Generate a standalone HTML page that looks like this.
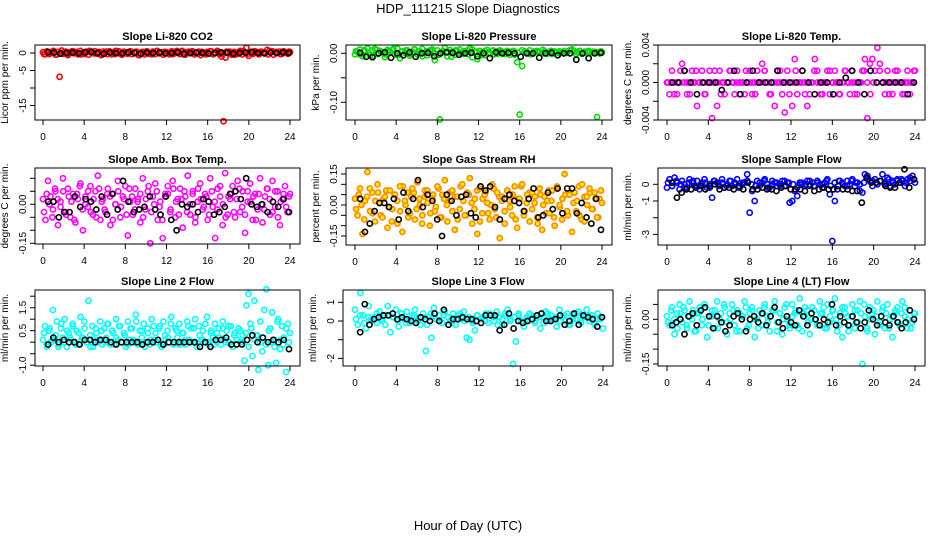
<!DOCTYPE html>
<html><head><meta charset="utf-8"><style>
html,body{margin:0;padding:0;background:#fff;}
svg{display:block;font-family:"Liberation Sans",sans-serif;}
</style></head><body>
<svg id="chart" width="936" height="540" viewBox="0 0 936 540">
<text x="468" y="13" text-anchor="middle" font-size="13">HDP_111215  Slope Diagnostics</text>
<text x="468" y="530" text-anchor="middle" font-size="13">Hour of Day (UTC)</text>
</svg>
<script>
// ---- data arrays (values per panel; hours spread over the day) ----
const co2Colored=[0.2,-0.4,0.5,-0.3,0.1,0.6,-0.5,0.3,-6.8,0.7,-0.2,0.4,-0.6,0.2,0.5,-0.1,0.3,-0.4,0.6,0.1,-0.3,0.4,-0.5,0.2,0.0,0.5,-0.2,0.3,-0.6,0.4,0.1,-0.3,0.5,-0.4,0.2,0.6,-0.1,0.3,-0.5,0.4,0.0,-0.2,0.5,-0.3,0.2,0.4,-0.6,0.1,0.3,-0.4,0.5,-0.2,0.0,0.4,-0.3,0.6,-0.1,0.2,-0.5,0.3,0.1,-0.4,0.5,-0.2,0.4,0.0,-0.3,0.6,-0.5,0.2,0.3,-0.1,0.5,-0.4,0.1,0.4,-0.6,0.2,0.0,0.3,-0.2,0.5,-0.4,0.1,0.6,-0.3,-1.0,-19.5,-1.3,0.2,0.4,-0.5,0.3,0.1,-0.2,0.6,-0.4,0.2,1.5,-0.8,0.3,-0.3,0.5,0.1,-0.4,0.4,0.2,-0.1,0.9,0.6,0.3,-0.5,0.2,0.0,0.4,-0.3,0.5,0.1,-0.2,0.3];
const co2Colored2=[-0.3,0.2,0.4,-0.5,0.1,0.3,-0.2,0.5,0.0,-0.4,0.3,0.6,-0.1,0.2,-0.5,0.4,0.1,-0.3,0.5,0.0,-0.2,0.4,0.3,-0.6,0.2,0.1,-0.4,0.5,-0.1,0.3,0.0,-0.3,0.6,0.2,-0.5,0.4,0.1,-0.2,0.3,-0.4,0.5,0.0,0.2,-0.3,0.4,0.1,-0.5,0.3,0.6,-0.2,0.0,0.4,-0.1,0.2,-0.4,0.5,0.3,-0.3,0.1,0.4];
const co2Black=[0.2,0.1,-0.2,0.0,0.1,-0.1,0.2,0.3,0.0,-0.2,0.1,0.0,-0.1,0.2,0.0,-0.2,0.1,0.0,0.1,-0.1,0.0,0.2,-0.2,0.0,0.1,0.0,-0.1,0.0,0.2,0.1,-0.2,0.0,0.1,0.3,0.0,-0.1,0.1,0.0,0.2,0.0];
const presColored=[-0.002,0.003,0.008,-0.006,0.004,0.010,-0.004,0.006,0.009,-0.002,0.005,0.002,-0.008,0.007,0.003,0.006,-0.003,0.010,-0.010,0.004,0.001,0.006,-0.005,0.003,0.008,-0.002,0.004,0.009,0.001,-0.004,0.005,0.008,-0.014,0.006,-0.135,0.002,0.011,-0.006,0.007,0.003,-0.003,0.005,0.008,-0.001,0.004,0.006,0.010,-0.008,0.003,-0.012,0.005,0.002,-0.004,0.007,0.001,0.005,-0.002,0.004,0.006,0.003,-0.001,0.005,0.002,0.004,-0.003,-0.018,-0.125,-0.026,0.004,0.002,0.006,-0.001,0.003,0.005,0.002,0.000,0.004,0.001,0.003,-0.001,0.004,0.002,0.000,0.003,0.005,0.001,0.006,0.008,0.004,0.002,0.005,-0.001,0.003,0.004,0.002,0.001,0.003,-0.130,0.000,0.002];
const presColored2=[0.004,-0.003,0.006,0.001,-0.005,0.007,0.002,-0.002,0.005,0.009,-0.004,0.003,0.006,-0.001,0.008,0.002,-0.006,0.004,0.007,0.000,-0.003,0.005,0.003,-0.007,0.006,0.001,0.004,-0.002,0.008,0.003,-0.004,0.005,0.002,0.006,-0.001,0.004,0.003,-0.003,0.005,0.001,0.006,0.002,-0.002,0.004,0.003,0.007,-0.001,0.005,0.002,0.004,0.000,0.003,0.006,-0.002,0.004,0.001,0.005,0.003,0.002,0.004];
const presBlack=[0.001,-0.007,-0.008,0.000,0.002,-0.009,0.000,-0.004,0.002,-0.007,0.000,0.001,-0.006,0.000,0.002,0.001,-0.003,0.000,0.001,-0.006,0.000,-0.010,0.002,0.000,0.001,0.000,-0.007,0.000,0.000,-0.009,0.000,0.001,-0.004,0.000,0.000,-0.013,0.000,-0.010,0.000,0.001];
const tempColored=[0,-0.00125,0.00125,0,-0.00125,0,0.002,0.00125,-0.00125,0,0.00125,0,-0.0025,0,0.00125,-0.00125,0,0.00125,-0.0038,0,-0.0025,0.00125,0,-0.00125,0,0.00125,0,-0.00125,0.00125,0,0,-0.00125,0,0.00125,-0.00125,0,0.00125,0,0.002,0.00125,0,-0.00125,0,-0.0025,0.00125,0,-0.00125,-0.0032,0.00125,0,-0.0025,0.0025,-0.00125,0,0.00125,0,-0.0025,-0.00125,0,0.0025,0.00125,0,-0.00125,0,0.00125,-0.00125,0,0.00125,0,-0.00125,0,0.00125,0,-0.00125,0.00125,0,-0.00125,0,0.00125,0.0025,-0.0038,0.002,0.0025,0.00125,0.0037,0.002,0,-0.00125,0.00125,0,-0.00125,0,0.00125,0,-0.00125,0,0.00125,-0.00125,0,0.00125];
const tempColored2=[0,0,-0.00125,0,0.00125,0,0,-0.00125,0,0.00125,0,0,-0.00125,0,0,0.00125,0,-0.00125,0,0,0.00125,0,0,-0.00125,0,0.00125,0,0,-0.00125,0,0,0.00125,0,-0.00125,0,0,0.00125,0,0,-0.00125,0,0.00125,0,0,-0.00125,0,0,0.00125,0,-0.00125,0,0,0.00125,0,0,-0.00125,0,0.00125,0,0,-0.00125,0,0,0.00125,0,-0.00125,0,0,0.00125,0,0,-0.00125,0,0.00125,0,0,-0.00125,0,0,0.00125];
const tempBlack=[0,0,0.00125,0,-0.00125,0,0,0,-0.0008,0,0.00125,-0.00125,0,0.00125,0,0,0,0.00125,0,0,0,0.00125,0,-0.00125,0,0,-0.00125,0,0.0005,0.00125,0,-0.00125,0.00125,0,0,0,0,0,-0.00125,0];
const ambColored=[0.02,-0.06,0.09,0.03,-0.02,0.05,-0.08,0.01,0.10,-0.03,0.06,-0.05,0.04,-0.07,0.02,0.08,-0.10,0.03,-0.01,0.07,-0.04,0.05,0.11,-0.06,0.02,-0.03,0.06,-0.08,0.04,0.00,0.09,-0.05,0.03,0.07,-0.12,0.01,-0.04,0.06,0.02,-0.07,0.10,-0.02,0.05,-0.15,0.03,0.08,-0.06,0.01,-0.13,0.04,0.07,-0.03,0.09,-0.05,0.02,0.06,-0.09,0.03,0.11,-0.04,0.05,-0.07,0.01,0.08,-0.02,0.04,-0.06,0.10,-0.01,-0.13,0.06,0.03,-0.08,0.12,-0.04,0.02,0.07,-0.05,0.09,-0.03,0.05,-0.11,0.01,0.08,-0.06,0.04,-0.02,0.10,-0.07,0.03,0.06,-0.04,0.09,-0.01,0.05,-0.08,0.02,0.07,-0.03,0.04];
const ambColored2=[-0.03,0.04,0.00,-0.05,0.06,0.02,-0.01,0.05,-0.04,0.03,0.01,-0.06,0.04,0.07,-0.02,0.00,0.05,-0.03,0.02,-0.05,0.06,0.01,-0.02,0.04,0.03,-0.06,0.00,0.05,-0.01,0.02,-0.04,0.06,0.03,-0.02,0.01,0.04,-0.05,0.02,0.07,-0.03,0.00,0.05,-0.01,-0.06,0.03,0.04,-0.02,0.06,0.01,-0.04,0.02,0.05,-0.03,0.00,0.04,-0.05,0.06,0.02,-0.01,0.03,-0.04,0.05,0.01,-0.02,0.07,0.00,-0.05,0.03,0.04,-0.03,0.02,0.06,-0.01,-0.04,0.05,0.01,0.03,-0.06,0.04,0.00,-0.02,0.06,0.02,-0.03,0.05,-0.05,0.01,0.04,-0.01,0.03];
const ambBlack=[0.01,0.01,-0.05,-0.03,-0.03,0.03,-0.01,0.02,0.01,-0.02,0.03,-0.04,0.04,-0.02,0.09,0.01,-0.03,-0.02,-0.01,0.03,-0.02,-0.04,0.03,-0.06,-0.10,0.00,-0.01,0.00,-0.03,0.02,0.01,-0.04,-0.03,-0.01,0.04,0.05,0.02,0.10,0.00,-0.01,0.00,-0.03,0.01,-0.01,0.02,-0.03];
const rhColored=[0.03,-0.05,0.08,-0.14,0.02,0.16,-0.03,0.06,-0.08,0.10,0.01,-0.06,0.04,-0.11,0.07,-0.02,0.05,-0.09,0.09,-0.13,0.02,0.06,-0.04,0.08,-0.07,0.11,0.00,-0.05,0.04,0.07,-0.10,0.03,-0.03,0.09,-0.06,0.05,0.12,-0.08,0.02,0.07,-0.12,0.04,-0.02,0.10,-0.05,0.06,0.13,-0.09,0.03,-0.14,0.08,-0.04,0.05,0.01,-0.07,0.10,-0.02,0.06,-0.16,0.04,-0.09,0.07,0.02,-0.05,0.09,-0.11,0.03,0.10,-0.03,0.05,-0.08,0.06,0.01,-0.06,0.08,-0.12,0.04,0.02,-0.04,0.07,-0.10,0.09,0.00,-0.07,0.15,-0.03,0.05,-0.13,0.06,0.02,-0.05,0.10,-0.08,0.04,0.08,-0.02,0.06,-0.06,0.03,0.01];
const rhColored2=[-0.02,0.05,0.00,-0.07,0.04,0.08,-0.04,0.02,0.06,-0.05,0.03,0.07,-0.01,-0.08,0.05,0.02,-0.03,0.09,0.00,-0.06,0.04,0.06,-0.02,0.03,-0.09,0.07,0.01,-0.04,0.05,-0.01,0.08,-0.06,0.03,0.00,0.06,-0.03,0.04,-0.07,0.09,0.02,-0.05,0.05,0.01,-0.02,0.07,-0.08,0.03,0.06,-0.04,0.00,0.08,-0.06,0.04,0.02,-0.03,0.07,-0.01,0.05,-0.07,0.03,0.09,-0.05,0.01,0.06,-0.02,0.04,-0.09,0.05,0.00,-0.04,0.07,0.02,-0.06,0.08,-0.01,0.03,0.05,-0.05,0.06,0.01,-0.03,0.09,-0.07,0.04,0.00,0.06,-0.02,0.03,-0.06,0.07];
const rhBlack=[0.03,-0.13,-0.09,-0.03,0.01,0.01,-0.01,0.03,-0.07,0.06,-0.03,0.03,0.12,-0.01,0.05,0.02,-0.07,-0.15,0.05,0.02,-0.05,0.04,0.05,-0.04,-0.06,0.09,0.07,0.09,-0.01,-0.07,0.03,0.05,0.02,0.01,-0.03,0.03,0.08,-0.06,-0.05,0.06,-0.02,0.08,-0.04,0.08,0.08,-0.04,0.01,-0.06,-0.09,0.03,-0.12];
const flowColored=[-0.2,0.3,-0.1,0.4,0.1,-0.3,0.2,0.0,-0.2,0.3,0.1,-0.1,0.2,-0.3,0.1,0.3,-0.2,0.0,-0.8,0.2,0.1,-0.1,0.3,-0.2,0.0,0.2,-0.1,0.1,0.3,-0.2,0.0,0.1,0.6,-1.7,-0.4,-1.0,0.2,-0.1,0.1,0.3,0.0,-0.2,0.2,0.1,-0.1,0.0,0.2,-0.1,0.1,-1.1,-1.0,-0.4,-0.7,0.1,0.0,-0.1,0.2,0.0,0.1,-0.1,0.2,0.0,-0.2,0.1,0.3,-0.6,-3.4,-1.0,-0.3,0.2,0.1,-0.1,0.2,0.0,0.3,-0.1,0.1,-0.4,-0.5,0.6,0.5,0.2,-0.1,0.3,0.0,0.2,0.6,0.1,0.4,-0.1,0.2,0.0,0.3,0.1,0.2,-0.1,0.3,0.4,0.5,0.1];
const flowColored2=[0.1,-0.1,0.2,0.0,-0.2,0.1,0.2,-0.1,0.0,0.1,-0.2,0.2,0.0,0.1,-0.1,0.2,0.0,-0.2,0.1,0.2,0.0,-0.1,0.1,0.2,-0.2,0.0,0.1,-0.1,0.2,0.1,0.0,-0.2,0.1,0.0,0.2,-0.1,0.1,0.0,0.2,-0.1,0.1,0.2,0.0,-0.1,0.2,0.1,0.0,0.1,0.3,0.2,0.1,0.2,0.0,0.3,0.1,0.2,0.3,0.1,0.2,0.3];
const flowBlack=[0.1,-0.8,-0.5,-0.3,-0.3,-0.2,-0.1,-0.3,-0.1,0.0,-0.3,-0.2,-0.2,-0.3,-0.1,-0.3,0.1,-0.3,-0.3,-0.2,-0.3,-0.3,-0.4,-0.2,-0.1,-0.3,-0.3,-0.3,-0.4,-0.1,-0.4,-0.3,-0.2,-0.3,-0.3,-0.1,-0.3,-0.3,-0.4,-0.4,-1.1,0.4,0.1,0.1,0.2,-0.1,-0.2,-0.2,0.1,0.9,-0.2,0.3];
const line2Colored=[0.1,0.7,-0.2,0.5,0.0,1.4,0.1,0.9,-0.1,0.6,0.2,1.0,-0.2,0.4,0.1,0.8,0.0,0.5,-0.1,1.1,0.2,0.6,0.0,1.8,-0.2,0.7,0.1,0.4,0.0,0.9,-0.1,0.6,0.2,0.8,0.0,0.5,-0.1,1.0,0.1,0.7,0.0,0.4,-0.2,0.9,0.1,0.6,0.0,1.2,-0.1,0.5,0.2,0.8,0.0,0.6,-0.1,1.0,0.1,0.4,0.0,0.7,-0.2,0.9,0.1,0.5,0.0,1.1,-0.1,0.6,0.2,0.8,0.0,0.4,-0.1,0.9,0.1,0.6,0.0,1.0,-0.2,0.7,0.1,0.5,0.0,1.1,-0.1,0.4,0.2,0.8,0.0,0.6,-0.1,0.9,0.1,0.5,0.0,0.7,-0.2,0.4,0.1,0.6,0.0,0.3,-0.8,1.6,2.1,0.8,-0.6,1.8,0.3,-1.2,0.9,-0.4,1.4,2.3,-1.0,0.6,1.3,0.1,-0.9,1.0,-0.3,0.7,0.2,-1.3,0.8,0.4];
const line2Colored2=[0.4,-0.1,0.6,0.1,0.3,-0.2,0.8,0.0,0.5,0.2,0.7,-0.1,0.4,0.1,0.9,0.0,0.3,-0.2,0.6,0.1,0.5,0.0,0.8,-0.1,0.4,0.2,0.7,0.0,0.3,-0.1,0.6,0.1,0.9,0.0,0.5,-0.2,0.4,0.1,0.7,0.0,0.6,-0.1,0.3,0.2,0.8,0.0,0.5,-0.1,0.4,0.1,0.7,0.0,0.6,-0.2,0.3,0.1,0.8,0.0,0.5,-0.1,0.4,0.2,0.6,0.0,0.7,-0.1,0.3,0.1,0.5,0.0,0.4,-0.2,0.6,0.1,0.3,0.0,0.2,-0.1,0.5,0.0,-0.2,0.9,0.1,-0.1,0.6,0.0];
const line2Black=[-0.1,0.2,0.0,0.1,0.0,0.0,-0.1,0.1,0.1,0.0,0.1,0.1,0.0,-0.1,0.0,0.0,0.0,0.0,-0.1,0.0,0.0,0.1,-0.1,0.0,0.0,0.0,0.0,0.0,0.0,-0.2,0.0,-0.2,0.1,0.1,0.2,-0.1,-0.1,-0.1,0.1,0.3,0.0,0.2,0.0,0.1,0.0,0.1,-0.3];
const line3Colored=[0.6,-0.2,1.5,0.3,-0.4,0.8,0.1,0.2,-0.1,0.5,0.0,0.3,0.8,-0.6,0.2,0.6,-0.3,0.4,0.1,0.5,-0.1,0.3,0.6,0.0,-0.2,0.4,-1.6,0.2,-0.9,0.7,0.1,0.3,-0.1,0.5,0.2,0.0,0.4,-0.2,0.3,0.1,0.5,-0.9,-1.0,0.0,-0.5,0.3,0.1,0.2,0.4,-0.1,0.3,0.0,0.5,0.2,-0.2,0.4,0.6,0.1,-2.3,-1.1,0.3,0.0,-0.3,0.2,0.4,0.1,-0.1,0.3,-0.4,0.2,0.5,0.0,0.3,0.1,-0.3,0.6,0.2,0.0,0.4,-0.2,0.3,0.1,0.5,-0.1,0.2,0.6,0.0,0.3,-0.2,0.4,0.1,-0.4];
const line3Colored2=[0.1,0.3,-0.1,0.2,0.0,0.4,0.1,-0.2,0.3,0.2,0.0,0.4,-0.1,0.1,0.3,0.0,0.2,-0.2,0.4,0.1,0.0,0.3,0.2,-0.1,0.1,0.4,0.0,0.2,-0.1,0.3,0.1,0.0,0.4,0.2,-0.2,0.1,0.3,0.0,0.2,0.4,-0.1,0.1,0.3,0.0,0.2,-0.1,0.4,0.1,0.2,0.0,0.3,-0.2,0.1,0.4,0.0,0.2,0.3,-0.1,0.1,0.2];
const line3Black=[-0.6,0.9,-0.2,0.1,0.2,0.3,0.3,0.4,0.1,0.2,0.1,0.0,-0.1,0.2,0.1,0.0,0.4,0.0,0.6,-0.2,0.1,0.1,0.2,0.1,0.1,0.0,-0.1,0.3,0.3,0.3,-0.5,-0.2,0.4,-0.4,0.0,-0.1,0.0,0.1,0.3,0.4,0.0,0.0,0.1,0.3,-0.2,0.0,0.4,-0.2,0.3,0.2,0.1,-0.3,0.2];
const line4Colored=[0.01,-0.02,0.04,-0.05,0.02,0.05,-0.01,0.03,-0.03,0.06,0.00,-0.04,0.02,0.04,-0.02,0.05,-0.06,0.01,0.03,-0.03,0.06,0.00,-0.01,0.04,-0.05,0.02,0.05,-0.02,0.03,-0.04,0.01,0.06,-0.03,0.02,0.04,-0.06,0.00,0.03,-0.02,0.05,0.01,-0.04,0.03,0.06,-0.01,0.02,-0.05,0.04,0.00,-0.03,0.05,0.02,-0.02,0.07,-0.04,0.01,0.03,-0.05,0.04,0.00,-0.02,0.06,0.02,-0.03,0.05,-0.01,0.03,0.07,-0.04,0.02,-0.06,0.04,0.01,-0.02,0.05,-0.03,0.03,0.06,-0.15,0.01,-0.04,0.04,0.02,-0.05,0.06,-0.01,0.03,-0.03,0.05,0.00,-0.06,0.02,0.04,-0.02,0.06,0.01,-0.03,0.03,-0.01,0.02];
const line4Colored2=[-0.01,0.03,0.00,-0.03,0.02,0.04,-0.02,0.01,0.03,-0.04,0.02,0.00,0.04,-0.02,0.01,0.03,-0.03,0.02,0.05,-0.01,0.00,0.03,-0.04,0.02,0.01,0.04,-0.02,0.03,0.00,-0.03,0.02,0.04,-0.01,0.01,0.03,-0.04,0.02,0.00,0.05,-0.02,0.01,0.03,-0.03,0.02,0.04,-0.01,0.00,0.03,-0.02,0.02,0.04,-0.03,0.01,0.03,0.00,-0.02,0.04,0.02,-0.04,0.01,0.03,-0.01,0.02,0.05,-0.03,0.00,0.03,0.01,-0.02,0.04,0.02,-0.03,0.01,0.03,-0.01,0.02,0.04,0.00,-0.03,0.02];
const line4Black=[-0.02,-0.01,0.00,-0.05,0.01,0.02,-0.02,0.03,0.04,0.01,-0.03,0.01,-0.01,-0.04,-0.02,0.01,0.02,0.00,-0.04,0.00,0.01,-0.01,0.02,-0.02,0.01,0.04,-0.01,-0.03,0.01,-0.01,-0.02,0.03,0.01,-0.02,0.02,0.00,-0.02,0.00,-0.01,0.05,-0.02,0.01,-0.01,-0.02,0.01,-0.01,-0.03,-0.01,0.03,0.00,-0.02,0.01,-0.01,-0.02,0.01,-0.01,-0.03,-0.01,0.03,0.00];
const xTicks=[0,4,8,12,16,20,24];

const panels=[
 {title:'Slope Li-820 CO2',ylab:'Licor ppm per min.',c:co2Colored,c2:co2Colored2,b:co2Black,col:'#ff0000',fill:'none',box:[35,45,300,120],x0:43,x24:290,ya:[0,53],yb:[-5,70.5],ticks:[0,-5,-10,-15],labels:{'0':'0','-5':'-5','-15':'-15'}},
 {title:'Slope Li-820 Pressure',ylab:'kPa per min.',c:presColored,c2:presColored2,b:presBlack,col:'#00dd00',fill:'none',box:[346,45,612,120],x0:355,x24:602,ya:[0,53.3],yb:[-0.1,102.3],ticks:[0,-0.05,-0.1],labels:{'0':'0.00','-0.1':'-0.10'}},
 {title:'Slope Li-820 Temp.',ylab:'degrees C per min.',c:tempColored,c2:tempColored2,b:tempBlack,col:'#ff00ff',fill:'none',box:[658,45,925,120],x0:667,x24:915,ya:[0.004,45],yb:[-0.004,120],ticks:[0.004,0.002,0,-0.002,-0.004],labels:{'0.004':'0.004','0':'0.000','-0.004':'-0.004'}},
 {title:'Slope Amb. Box Temp.',ylab:'degrees C per min.',c:ambColored,c2:ambColored2,b:ambBlack,col:'#ff00ff',fill:'none',box:[35,168,300,244],x0:43,x24:290,ya:[0,204.3],yb:[-0.15,243.3],ticks:[0.1,0.05,0,-0.05,-0.1,-0.15],labels:{'0':'0.00','-0.15':'-0.15'}},
 {title:'Slope Gas Stream RH',ylab:'percent per min.',c:rhColored,c2:rhColored2,b:rhBlack,col:'#ff8800',fill:'#ffee00',box:[346,168,612,245],x0:355,x24:602,ya:[0.15,174],yb:[-0.15,236],ticks:[0.15,0.1,0.05,0,-0.05,-0.1,-0.15],labels:{'0.15':'0.15','0':'0.00','-0.15':'-0.15'}},
 {title:'Slope Sample Flow',ylab:'ml/min per min.',c:flowColored,c2:flowColored2,b:flowBlack,col:'#0000ff',fill:'none',box:[658,168,925,245],x0:667,x24:915,ya:[0,184.3],yb:[-1,201],ticks:[0,-1,-2,-3],labels:{'0':'0','-1':'-1','-3':'-3'}},
 {title:'Slope Line 2 Flow',ylab:'ml/min per min.',c:line2Colored,c2:line2Colored2,b:line2Black,col:'#00ffff',fill:'none',box:[35,290,300,366],x0:43,x24:290,ya:[0.5,330.7],yb:[1,319.2],ticks:[2,1.5,1,0.5,0,-0.5,-1],labels:{'1.5':'1.5','0.5':'0.5','-1':'-1.0'}},
 {title:'Slope Line 3 Flow',ylab:'ml/min per min.',c:line3Colored,c2:line3Colored2,b:line3Black,col:'#00ffff',fill:'none',box:[343,290,613,366],x0:355,x24:603,ya:[0,321],yb:[1,302.3],ticks:[1,0,-1,-2],labels:{'1':'1','0':'0','-2':'-2'}},
 {title:'Slope Line 4 (LT) Flow',ylab:'ml/min per min.',c:line4Colored,c2:line4Colored2,b:line4Black,col:'#00ffff',fill:'none',box:[658,290,925,366],x0:667,x24:915,ya:[0,319.3],yb:[-0.15,364],ticks:[0.05,0,-0.05,-0.1,-0.15],labels:{'0':'0.00','-0.15':'-0.15'}}
];
const NS='http://www.w3.org/2000/svg';
const svg=document.getElementById('chart');
function mk(tag,attrs,parent){const e=document.createElementNS(NS,tag);for(const k in attrs)e.setAttribute(k,attrs[k]);parent.appendChild(e);return e;}
panels.forEach((p,pi)=>{
  const g=mk('g',{},svg);
  
  
  const [L,T,R,B]=p.box;
  const xs=h=>p.x0+(p.x24-p.x0)*h/24;
  const ys=v=>p.ya[1]+(v-p.ya[0])*(p.yb[1]-p.ya[1])/(p.yb[0]-p.ya[0]);
  const t=mk('text',{x:(L+R)/2,y:T-5,'text-anchor':'middle','font-size':11,'font-weight':'bold'},g);
  t.textContent=p.title;
  
  
  const yl=mk('text',{transform:`translate(${L-27},${(T+B)/2}) rotate(-90)`,'text-anchor':'middle','font-size':10},g);
  yl.textContent=p.ylab;
  
  
  // colored series (two interleaved sets)
  const n2=p.c2.length;
  p.c2.forEach((v,i)=>{
    const c=mk('circle',{cx:xs(0.1+i*23.8/(n2-1)),cy:ys(v),r:2.6,fill:p.fill,stroke:p.col,'stroke-width':1.6},g);
    
    
  });
  const n=p.c.length;
  p.c.forEach((v,i)=>{
    const c=mk('circle',{cx:xs(i*24/(n-1)),cy:ys(v),r:2.6,fill:p.fill,stroke:p.col,'stroke-width':1.6},g);
    
    
  });
  const m=p.b.length;
  p.b.forEach((v,i)=>{
    const c=mk('circle',{cx:xs(0.5+i*23.4/(m-1)),cy:ys(v),r:2.6,fill:'none',stroke:'#000','stroke-width':1.6},g);
    
    
  });
  const bx=mk('rect',{x:L,y:T,width:R-L,height:B-T,fill:'none',stroke:'#000','stroke-width':1},g);
  
  
  mk('line',{x1:xs(0),x2:xs(24),y1:B,y2:B,stroke:'#000'},g);
  xTicks.forEach(h=>{
    mk('line',{x1:xs(h),x2:xs(h),y1:B,y2:B+5,stroke:'#000'},g);
    const tl=mk('text',{x:xs(h),y:B+20,'text-anchor':'middle','font-size':10},g);
    tl.textContent=h;
    
    
  });
  const tv=p.ticks.map(ys);
  mk('line',{x1:L,x2:L,y1:Math.min(...tv),y2:Math.max(...tv),stroke:'#000'},g);
  p.ticks.forEach(v=>{
    mk('line',{x1:L-5,x2:L,y1:ys(v),y2:ys(v),stroke:'#000'},g);
    const lab=p.labels[String(v)];
    if(lab!==undefined){
      const tl=mk('text',{transform:`translate(${L-9},${ys(v)}) rotate(-90)`,'text-anchor':'middle','font-size':10},g);
      tl.textContent=lab;
      
      
    }
  });
});
</script>
</body></html>
